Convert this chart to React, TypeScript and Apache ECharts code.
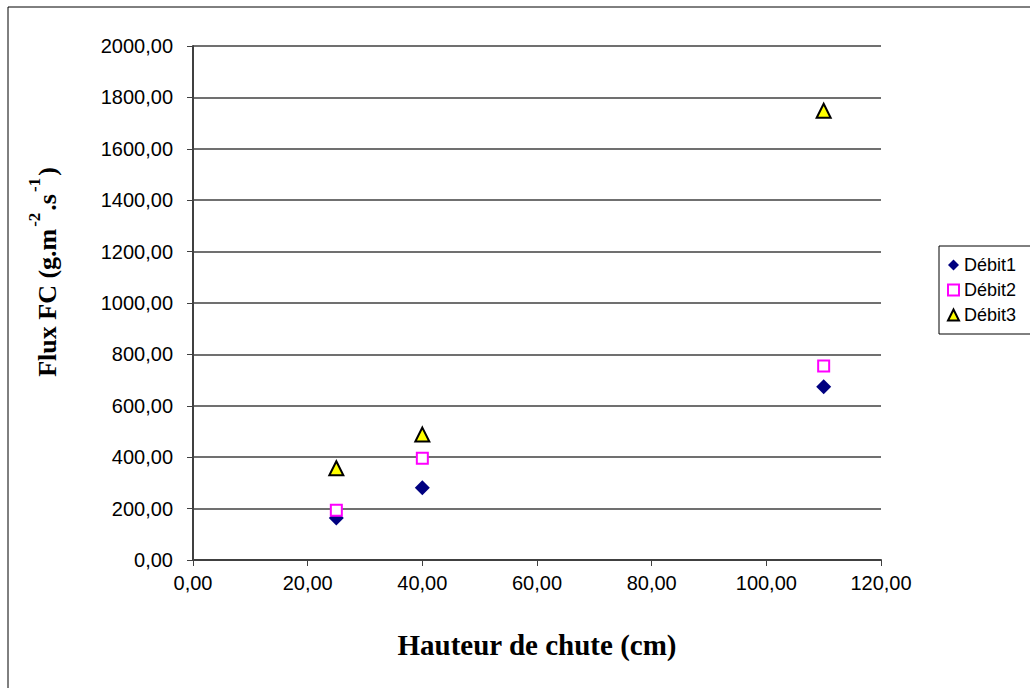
import React, { useEffect, useRef } from "react";
import * as echarts from "echarts";

const seriesNames = ["Débit1", "Débit2", "Débit3"];
const hauteur = [25, 40, 110];
const debit1 = [163, 281, 674];
const debit2 = [194, 396, 755];
const debit3 = [357, 488, 1748];

const fmt = (v: number) => v.toFixed(2).replace(".", ",");

export default function App() {
  const ref = useRef<HTMLDivElement>(null);
  useEffect(() => {
    if (!ref.current) return;
    const chart = echarts.init(ref.current, null, { renderer: "svg" });
    const toPairs = (ys: number[]) => hauteur.map((x, i) => [x, ys[i]]);
    chart.setOption({
      animation: false,
      backgroundColor: "#ffffff",
      grid: { left: 193, top: 46, right: 149, bottom: 128 },
      xAxis: {
        type: "value",
        min: 0,
        max: 120,
        interval: 20,
        name: "Hauteur de chute (cm)",
        nameLocation: "middle",
        nameGap: 70,
        nameTextStyle: { fontFamily: "Liberation Serif", fontWeight: "bold", fontSize: 29, color: "#000" },
        axisLine: { lineStyle: { color: "#404040", width: 2 } },
        axisTick: { show: true, inside: false, length: 6, lineStyle: { color: "#404040" } },
        axisLabel: { formatter: fmt, fontFamily: "Liberation Sans", fontSize: 20, color: "#000", margin: 13 },
        splitLine: { show: false },
      },
      yAxis: {
        type: "value",
        min: 0,
        max: 2000,
        interval: 200,
        axisLine: { show: true, lineStyle: { color: "#404040", width: 2 } },
        axisTick: { show: true, inside: false, length: 6, lineStyle: { color: "#404040" } },
        axisLabel: { formatter: fmt, fontFamily: "Liberation Sans", fontSize: 20, color: "#000", margin: 20 },
        splitLine: { show: true, lineStyle: { color: "#707070", width: 2 } },
      },
      legend: {
        orient: "vertical",
        left: 939,
        top: 246,
        padding: [10, 100, 10, 8],
        itemGap: 7,
        itemWidth: 11,
        itemHeight: 11,
        borderColor: "#000",
        borderWidth: 1,
        textStyle: { fontFamily: "Liberation Sans", fontSize: 18, color: "#000" },
        data: seriesNames,
      },
      graphic: [
        {
          type: "rect",
          shape: { x: 8, y: 7, width: 1200, height: 900 },
          style: { fill: "none", stroke: "#000", lineWidth: 1 },
          silent: true,
          z: -10,
        },
        {
          type: "text",
          x: 43,
          y: 272,
          rotation: Math.PI / 2,
          style: {
            text: "{b|Flux FC (g.m}{s|-2}{b|.s}{s|-1}{b|)}",
            align: "center",
            verticalAlign: "middle",
            rich: {
              b: { fontFamily: "Liberation Serif", fontWeight: "bold", fontSize: 26, lineHeight: 34, verticalAlign: "bottom", fill: "#000" },
              s: { fontFamily: "Liberation Serif", fontWeight: "bold", fontSize: 17, lineHeight: 18, verticalAlign: "top", fill: "#000", padding: [0, 2, 0, 2] },
            },
          },
        },
      ],
      series: [
        {
          name: seriesNames[0],
          type: "scatter",
          symbol: "diamond",
          symbolSize: 15,
          itemStyle: { color: "#000080", opacity: 1 },
          data: toPairs(debit1),
          z: 1,
        },
        {
          name: seriesNames[1],
          type: "scatter",
          symbol: "rect",
          symbolSize: 11,
          itemStyle: { color: "#ffffff", borderColor: "#ff00ff", borderWidth: 2, opacity: 1 },
          data: toPairs(debit2),
          z: 2,
        },
        {
          name: seriesNames[2],
          type: "scatter",
          symbol: "triangle",
          symbolSize: 14,
          itemStyle: { color: "#ffff00", borderColor: "#000000", borderWidth: 2, opacity: 1 },
          data: toPairs(debit3),
          z: 3,
        },
      ],
    });
    return () => chart.dispose();
  }, []);
  return (
    <div
      ref={ref}
      style={{ position: "fixed", left: 0, top: 0, width: 1030, height: 688, background: "#fff" }}
    />
  );
}
